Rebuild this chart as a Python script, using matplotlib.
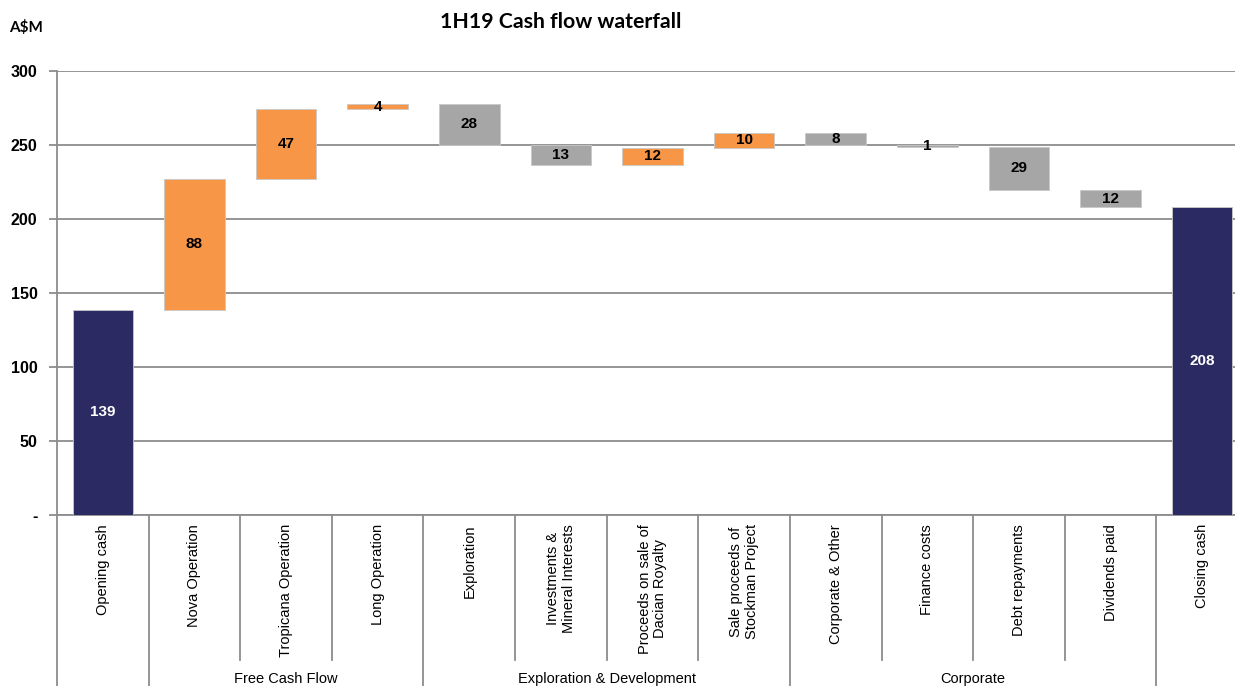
import matplotlib
matplotlib.use("Agg")
import matplotlib.pyplot as plt


# values (A$M)
categories = [
    "Opening cash", "Nova Operation", "Tropicana Operation", "Long Operation",
    "Exploration", "Investments &\nMineral Interests", "Proceeds on sale of\nDacian Royalty",
    "Sale proceeds of\nStockman Project", "Corporate & Other", "Finance costs",
    "Debt repayments", "Dividends paid", "Closing cash",
]
amounts = [138.6, 88.4, 47.2, 3.6, -27.7, -13.4, 11.6, 9.6, -7.9, -1.2, -29.0, -12.0, 207.8]
kinds = ["total", "up", "up", "up", "down", "down", "up", "up",
         "down", "down", "down", "down", "total"]

groups = ["Free Cash Flow", "Exploration & Development", "Corporate"]
group_spans = [(1, 3), (4, 7), (8, 11)]

y_ticks = [0, 50, 100, 150, 200, 250, 300]
y_tick_labels = ["-", "50", "100", "150", "200", "250", "300"]

COLORS = {"total": "#2B2A63", "up": "#F79646", "down": "#A6A6A6"}
GRID = "#8C8C8C"

plt.rcParams["font.family"] = ["Liberation Sans", "DejaVu Sans"]

W, H = 1235, 686
fig = plt.figure(figsize=(W / 100, H / 100), dpi=100)
ax_left, ax_right, ax_top, ax_bottom = 57, 1248, 71, 515
ax = fig.add_axes([ax_left / W, (H - ax_bottom) / H,
                   (ax_right - ax_left) / W, (ax_bottom - ax_top) / H])

# waterfall bottoms / heights
bottoms, heights = [], []
running = 0.0
for amt, kind in zip(amounts, kinds):
    if kind == "total":
        bottoms.append(0)
        heights.append(amt)
        running = amt
    else:
        start = running
        running = running + amt
        bottoms.append(min(start, running))
        heights.append(abs(amt))

x = list(range(len(categories)))
ax.bar(x, heights, bottom=bottoms, width=0.66,
       color=[COLORS[k] for k in kinds], edgecolor="#C8C8C8", linewidth=0.6, zorder=3)

for xi, b, h, amt, kind in zip(x, bottoms, heights, amounts, kinds):
    ax.text(xi, b + h / 2, f"{abs(amt):.0f}", ha="center", va="center",
            fontsize=11, fontweight="bold",
            color="white" if kind == "total" else "black", zorder=4)

ax.set_xlim(-0.5, len(categories) - 0.5)
ax.set_ylim(0, 300)
ax.set_yticks(y_ticks)
ax.set_yticklabels(y_tick_labels, fontsize=11.5, fontweight="bold")
ax.yaxis.grid(True, color=GRID, linewidth=1.3, zorder=0)
ax.set_axisbelow(True)
ax.tick_params(axis="y", length=6, width=1.3, color=GRID, pad=8)
ax.set_xticks([])

for side in ["top", "right"]:
    ax.spines[side].set_visible(False)
ax.spines["left"].set_color(GRID)
ax.spines["left"].set_linewidth(1.3)
ax.spines["bottom"].set_color(GRID)
ax.spines["bottom"].set_linewidth(1.3)

# category labels and separators below the axis
px = ax_bottom - ax_top
trans = ax.get_xaxis_transform()
short_y = -(660 - ax_bottom) / px
long_y = -(H - ax_bottom + 2) / px
for xi, name in zip(x, categories):
    ax.text(xi, -9 / px, name, rotation=90, ha="center", va="top",
            fontsize=10.5, transform=trans, linespacing=1.15)

group_edges = {-0.5}
for start, end in group_spans:
    group_edges.add(start - 0.5)
    group_edges.add(end + 0.5)
for i in range(len(categories)):
    edge = i - 0.5
    y_end = long_y if edge in group_edges else short_y
    ax.plot([edge, edge], [0, y_end], color=GRID, linewidth=1.3,
            transform=trans, clip_on=False)

for name, (start, end) in zip(groups, group_spans):
    ax.text((start + end) / 2, -(679 - ax_bottom) / px, name, ha="center", va="center",
            fontsize=10.5, transform=trans)

fig.text(561 / W, 1 - 22 / H, "1H19 Cash flow waterfall", ha="center", va="center",
         fontsize=15.3, fontweight="bold", family=["Lato", "DejaVu Sans"])
fig.text(26 / W, 1 - 27 / H, "A$M", ha="center", va="center",
         fontsize=11, fontweight="bold", family=["Lato", "DejaVu Sans"])

fig.savefig("out.png", dpi=100)
